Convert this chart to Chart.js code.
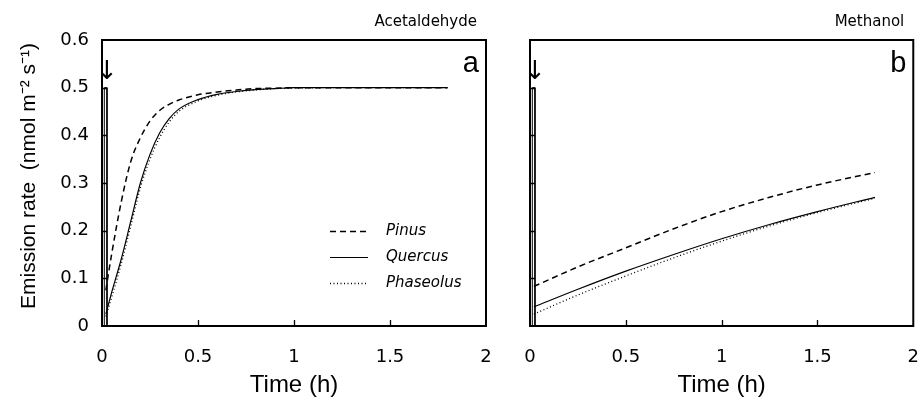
<!DOCTYPE html>
<html><head><meta charset="utf-8">
<script src="https://cdn.jsdelivr.net/npm/chart.js@4.4.0/dist/chart.umd.min.js"></script>
<style>
html,body{margin:0;padding:0;background:#fff;overflow:hidden;}
#ca{position:absolute;left:0;top:0;}
#cb{position:absolute;left:500px;top:0;}
</style></head><body>
<canvas id="ca" width="500" height="403"></canvas>
<canvas id="cb" width="419" height="403"></canvas>
<script>
// ---------- data ----------
const seriesNames = ['Pinus', 'Quercus', 'Phaseolus'];
const panelTitles = ['Acetaldehyde', 'Methanol'];
const panelLetters = ['a', 'b'];
const xAxisTitle = 'Time (h)';
const yAxisTitle = 'Emission rate  (nmol m\u207B\u00B2 s\u207B\u00B9)';
const xTickLabels = ['0', '0.5', '1', '1.5', '2'];
const yTickLabels = ['0', '0.1', '0.2', '0.3', '0.4', '0.5', '0.6'];

// Panel a: acetaldehyde
const timeA      = [0.02, 0.05, 0.1, 0.15, 0.2, 0.25, 0.3, 0.35, 0.4, 0.5, 0.6, 0.7, 0.8, 0.9, 1.0, 1.2, 1.5, 1.8];
const pinusA     = [0.075, 0.15, 0.26, 0.345, 0.395, 0.43, 0.452, 0.465, 0.474, 0.485, 0.491, 0.495, 0.498, 0.499, 0.5, 0.5, 0.5, 0.5];
const quercusA   = [0.025, 0.07, 0.14, 0.22, 0.30, 0.36, 0.405, 0.435, 0.455, 0.475, 0.486, 0.492, 0.496, 0.498, 0.5, 0.5, 0.5, 0.5];
const phaseolusA = [0.02, 0.06, 0.13, 0.21, 0.29, 0.35, 0.395, 0.428, 0.45, 0.472, 0.484, 0.491, 0.495, 0.498, 0.499, 0.5, 0.5, 0.5];

// Panel b: methanol
const timeB      = [0.02, 0.25, 0.5, 0.75, 1.0, 1.25, 1.5, 1.8];
const pinusB     = [0.083, 0.124, 0.164, 0.204, 0.24, 0.27, 0.296, 0.322];
const quercusB   = [0.04, 0.077, 0.115, 0.15, 0.183, 0.213, 0.24, 0.27];
const phaseolusB = [0.025, 0.065, 0.105, 0.143, 0.178, 0.21, 0.238, 0.268];

// start marker (narrow bar at t = 0) and arrow position
const markerX = [0.012, 0.012, 0.026, 0.026];
const markerY = [0, 0.5, 0.5, 0];
const arrowAt = [0.026, 0.533];

// ---------- helpers ----------
const pts = (xs, ys) => xs.map((x, i) => ({x: x, y: ys[i]}));
const styles = [
  {borderDash: [6, 4], borderWidth: 1.5},
  {borderDash: [], borderWidth: 1.2},
  {borderDash: [1, 2.5], borderWidth: 1.3}
];
const TICK_FONT = {family: 'DejaVu Sans, sans-serif', size: 18};
const LABEL_FONT = 'DejaVu Sans, sans-serif';
const AXIS_FONT = 'Liberation Sans, Arial, sans-serif';

function makeDatasets(time, arrs) {
  const ds = arrs.map((arr, i) => ({
    label: seriesNames[i],
    data: pts(time, arr),
    borderColor: '#000',
    backgroundColor: '#000',
    borderWidth: styles[i].borderWidth,
    borderDash: styles[i].borderDash,
    pointRadius: 0,
    fill: false,
    cubicInterpolationMode: 'monotone'
  }));
  ds.push({
    label: 'marker',
    data: pts(markerX, markerY),
    borderColor: '#000',
    borderWidth: 1,
    pointRadius: 0,
    fill: false,
    tension: 0
  });
  return ds;
}

function framePlugin(idx, withLegend, withYTitle) {
  return {
    id: 'frame' + idx,
    afterDraw(chart) {
      const {ctx, chartArea: ca, scales} = chart;
      const xs = scales.x, ys = scales.y;
      ctx.save();
      ctx.strokeStyle = '#000';
      ctx.fillStyle = '#000';
      // frame
      ctx.lineWidth = 2;
      ctx.strokeRect(ca.left, ca.top, ca.right - ca.left, ca.bottom - ca.top);
      // inner ticks
      ctx.lineWidth = 1.3;
      ctx.beginPath();
      xs.ticks.forEach(t => {
        if (t.value <= xs.min || t.value >= xs.max) return;
        const px = Math.round(xs.getPixelForValue(t.value)) + 0.5;
        ctx.moveTo(px, ca.bottom); ctx.lineTo(px, ca.bottom - 6);
      });
      ys.ticks.forEach(t => {
        if (t.value <= ys.min || t.value >= ys.max) return;
        const py = Math.round(ys.getPixelForValue(t.value)) + 0.5;
        ctx.moveTo(ca.left, py); ctx.lineTo(ca.left + 5, py);
      });
      ctx.stroke();
      // arrow
      ctx.font = '26px DejaVu Sans, sans-serif';
      ctx.textAlign = 'center';
      ctx.textBaseline = 'middle';
      ctx.fillText('\u2193', xs.getPixelForValue(arrowAt[0]), ys.getPixelForValue(arrowAt[1]));
      // panel letter
      ctx.font = '29px Liberation Sans, Arial, sans-serif';
      ctx.textAlign = 'right';
      ctx.textBaseline = 'alphabetic';
      ctx.fillText(panelLetters[idx], ca.right - 7, ca.top + 32);
      // title above
      ctx.font = '15px ' + LABEL_FONT;
      ctx.textAlign = 'right';
      ctx.textBaseline = 'alphabetic';
      ctx.fillText(panelTitles[idx], ca.right - 9, ca.top - 14);
      // x axis title
      ctx.font = '24px ' + AXIS_FONT;
      ctx.textAlign = 'center';
      ctx.textBaseline = 'middle';
      ctx.fillText(xAxisTitle, (ca.left + ca.right) / 2, 385);
      // y axis title
      if (withYTitle) {
        ctx.save();
        ctx.translate(29, 176);
        ctx.rotate(-Math.PI / 2);
        ctx.font = '21px ' + AXIS_FONT;
        ctx.textAlign = 'center';
        ctx.textBaseline = 'middle';
        ctx.fillText(yAxisTitle, 0, 0);
        ctx.restore();
      }
      // legend
      if (withLegend) {
        const rows = [231, 257, 283];
        const x0 = 330, x1 = 368, tx = 386;
        rows.forEach((ry, i) => {
          ctx.lineWidth = styles[i].borderWidth;
          ctx.setLineDash(styles[i].borderDash);
          ctx.beginPath();
          ctx.moveTo(x0, ry + 0.5); ctx.lineTo(x1, ry + 0.5);
          ctx.stroke();
          ctx.setLineDash([]);
          ctx.font = 'italic 15px ' + LABEL_FONT;
          ctx.textAlign = 'left';
          ctx.textBaseline = 'middle';
          ctx.fillText(seriesNames[i], tx, ry);
        });
      }
      ctx.restore();
    }
  };
}

function makeOptions(showY, yWidth, rightPad) {
  return {
    responsive: false,
    animation: false,
    devicePixelRatio: 1,
    layout: {padding: {top: 40, right: rightPad, left: 0, bottom: 0}},
    plugins: {legend: {display: false}, tooltip: {enabled: false}},
    scales: {
      x: {
        type: 'linear', min: 0, max: 2,
        grid: {display: false, drawTicks: true, tickLength: 21},
        border: {display: false},
        ticks: {
          stepSize: 0.5, color: '#000', font: TICK_FONT, padding: 0, maxRotation: 0,
          callback: (v, i) => xTickLabels[i]
        },
        title: {display: false, text: xAxisTitle},
        afterFit: s => { s.height = 77; }
      },
      y: {
        type: 'linear', min: 0, max: 0.6,
        grid: {display: false, drawTicks: false},
        border: {display: false},
        ticks: {
          display: showY, stepSize: 0.1, color: '#000', font: TICK_FONT, padding: 13,
          callback: (v, i) => yTickLabels[i]
        },
        title: {display: false, text: yAxisTitle},
        afterFit: s => { s.width = yWidth; }
      }
    }
  };
}

new Chart(document.getElementById('ca'), {
  type: 'line',
  data: {datasets: makeDatasets(timeA, [pinusA, quercusA, phaseolusA])},
  options: makeOptions(true, 102, 14),
  plugins: [framePlugin(0, true, true)]
});

new Chart(document.getElementById('cb'), {
  type: 'line',
  data: {datasets: makeDatasets(timeB, [pinusB, quercusB, phaseolusB])},
  options: makeOptions(false, 30, 5),
  plugins: [framePlugin(1, false, false)]
});
</script>
</body></html>
